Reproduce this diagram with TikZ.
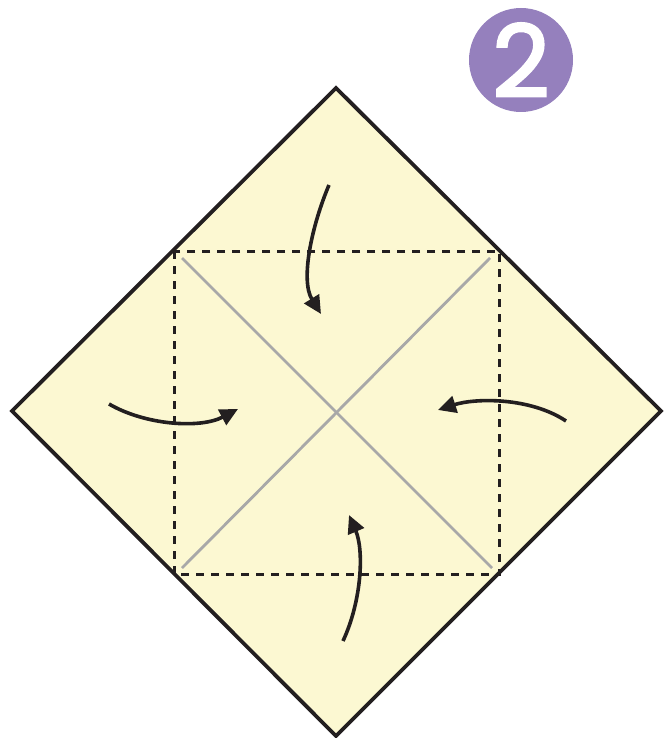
\documentclass[tikz,border=0pt]{standalone}
\usepackage{fontspec}
\newfontfamily\badgefont[FakeBold=2.5]{Poppins}
\usetikzlibrary{arrows.meta}
\definecolor{paper}{HTML}{FCF8D2}
\definecolor{badge}{HTML}{9580BD}
\definecolor{crease}{HTML}{A8A8A8}
\definecolor{ink}{HTML}{231F20}
\tikzset{
  foldarrow/.style={draw=ink, line width=3.6pt, -{Triangle[length=18pt,width=17pt]}},
  dashline/.style={draw=ink, line width=3pt, dash pattern=on 8pt off 7pt},
  creaseline/.style={draw=crease, line width=2.8pt},
}
\begin{document}
\begin{tikzpicture}[x=1pt,y=1pt]
\useasboundingbox (0,0) rectangle (668,-738);
% paper
\coordinate (T) at (336,-88);
\coordinate (L) at (12,-411);
\coordinate (R) at (661,-411);
\coordinate (B) at (336,-736);
\coordinate (C) at (336,-412);
\filldraw[fill=paper, draw=ink, line width=3.8pt, line join=miter] (T) -- (R) -- (B) -- (L) -- cycle;
% creases
\draw[creaseline] (182,-258) -- (492,-568);
\draw[creaseline] (490,-258) -- (182,-568);
% dashed square
\draw[dashline] (174,-251) rectangle (499,-574);
% arrows
\draw[foldarrow] (329,-185) .. controls (312,-225) and (300,-280) .. (321,-314);
\draw[foldarrow] (109,-404) .. controls (145,-425) and (200,-429) .. (238,-409);
\draw[foldarrow] (566,-421) .. controls (530,-397) and (475,-398) .. (438,-410);
\draw[foldarrow] (343,-641) .. controls (362,-600) and (364,-550) .. (349,-515);
% badge
\node[circle, fill=badge, minimum size=104pt, inner sep=0pt, text=white,
      font=\badgefont\fontsize{100}{100}\selectfont] (badge) at (521,-60) {2};
\end{tikzpicture}
\end{document}
